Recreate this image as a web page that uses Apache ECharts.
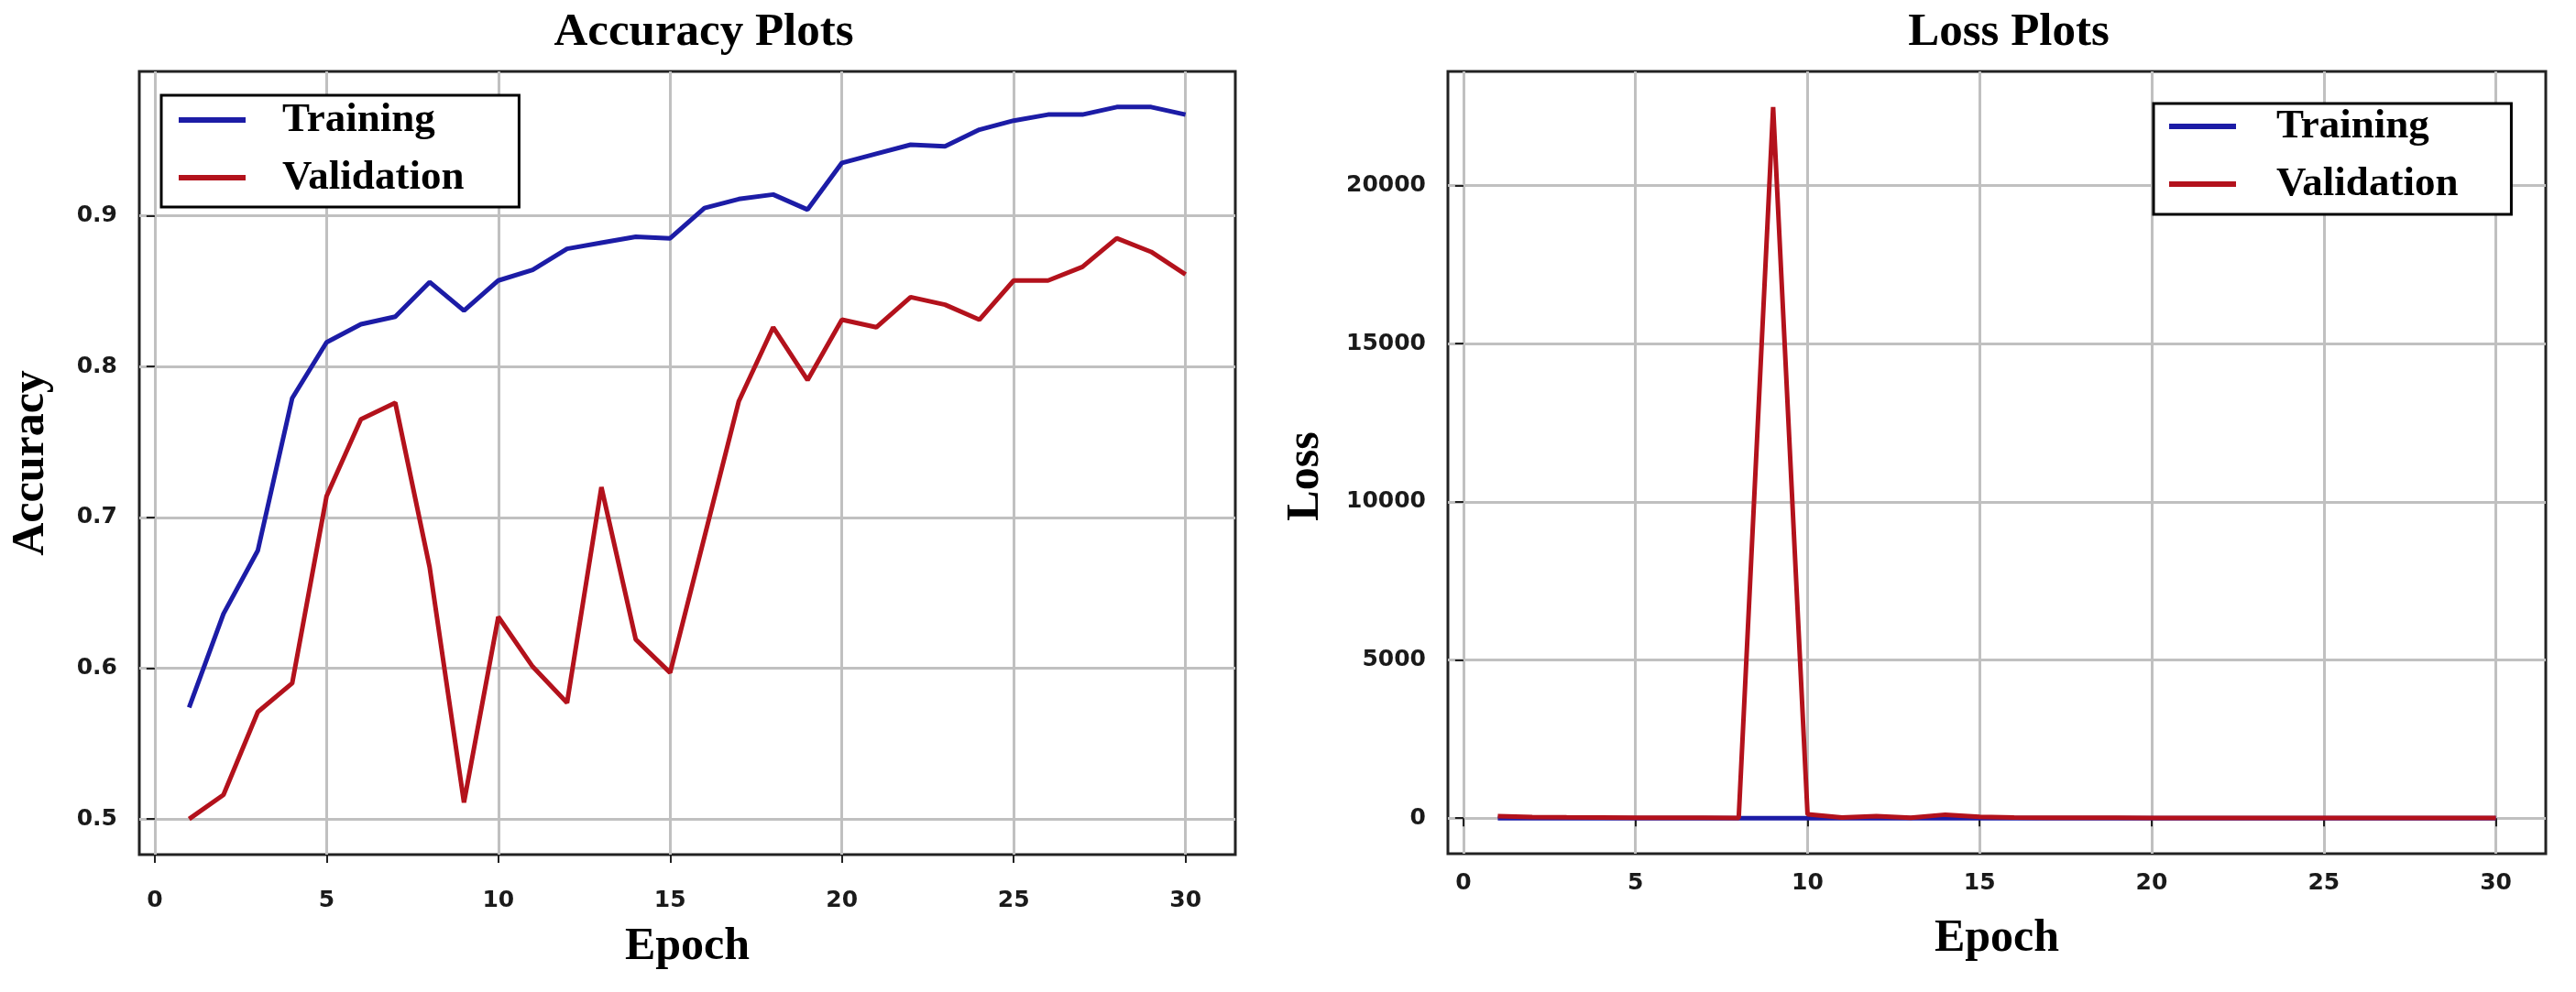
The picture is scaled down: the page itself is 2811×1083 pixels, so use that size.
<!DOCTYPE html>
<html>
<head>
<meta charset="utf-8">
<script src="https://cdn.jsdelivr.net/npm/echarts@6/dist/echarts.min.js"></script>
<style>
html,body{margin:0;padding:0;background:#fff;}
#chart{width:2811px;height:1083px;}
</style>
</head>
<body>
<div id="chart"></div>
<script>
const epochs = [1,2,3,4,5,6,7,8,9,10,11,12,13,14,15,16,17,18,19,20,21,22,23,24,25,26,27,28,29,30];
const accTrain = [0.574,0.636,0.678,0.779,0.816,0.828,0.833,0.856,0.837,0.857,0.864,0.878,0.882,0.886,0.885,0.905,0.911,0.914,0.904,0.935,0.941,0.947,0.946,0.957,0.963,0.967,0.967,0.972,0.972,0.967];
const accVal = [0.500,0.516,0.571,0.590,0.714,0.765,0.776,0.667,0.511,0.634,0.601,0.577,0.720,0.619,0.597,0.687,0.777,0.826,0.791,0.831,0.826,0.846,0.841,0.831,0.857,0.857,0.866,0.885,0.876,0.861];
const lossTrain = [1.05,0.92,0.85,0.62,0.51,0.47,0.45,0.40,0.44,0.39,0.37,0.34,0.33,0.32,0.32,0.28,0.26,0.25,0.27,0.20,0.18,0.17,0.17,0.15,0.13,0.12,0.12,0.11,0.11,0.12];
const lossVal = [60,35,25,20,15,12,10,8,22480,120,20,60,15,110,40,20,15,12,10,8,8,7,6,6,5,5,5,4,4,4];
const epochTicks = [0,5,10,15,20,25,30];
const accTicks = [0.5,0.6,0.7,0.8,0.9];
const lossTicks = [0,5000,10000,15000,20000];
const seriesNames = ['Training','Validation'];

const BLUE = '#1c1ca6';
const RED = '#b3121c';
const SERIF = "'Liberation Serif','Times New Roman',serif";
const SANS = "'DejaVu Sans',sans-serif";

function pairs(xs, ys){ return xs.map((x,i)=>[x, ys[i]]); }

function xAxisCfg(gi, margin, gap){
  return {
    type:'value', gridIndex:gi, min:-0.45, max:31.45,
    axisLine:{show:false},
    axisTick:{show:true, inside:false, length:9, customValues:epochTicks, lineStyle:{color:'#222', width:2}},
    axisLabel:{customValues:epochTicks, margin:margin, fontFamily:SANS, fontWeight:'bold', fontSize:25, color:'#1a1a1a',
      formatter:(v)=> epochTicks.indexOf(v) >= 0 ? String(v) : ''},
    splitLine:{show:true, lineStyle:{color:'#c0c0c0', width:3}},
    name:'Epoch', nameLocation:'middle', nameGap:gap,
    nameTextStyle:{fontFamily:SERIF, fontWeight:'bold', fontSize:50, color:'#000'}
  };
}

function yAxisCfg(gi, min, max, ticks, fmt, name, gap, pad){
  return {
    type:'value', gridIndex:gi, min:min, max:max,
    axisLine:{show:false},
    axisTick:{show:true, inside:false, length:9, customValues:ticks, lineStyle:{color:'#222', width:2}},
    axisLabel:{customValues:ticks, margin:24, fontFamily:SANS, fontWeight:'bold', fontSize:25, color:'#1a1a1a',
      formatter:(v)=> ticks.some(t=>Math.abs(t-v)<1e-9) ? fmt(v) : ''},
    splitLine:{show:true, lineStyle:{color:'#c0c0c0', width:3}},
    name:name, nameLocation:'middle', nameGap:gap,
    nameTextStyle:{fontFamily:SERIF, fontWeight:'bold', fontSize:50, color:'#000', padding:pad}
  };
}

function lineSeries(name, color, xi, yi, data, z){
  return {
    type:'line', name:name, xAxisIndex:xi, yAxisIndex:yi, data:data,
    showSymbol:false, symbol:'none', smooth:false, z:z,
    lineStyle:{color:color, width:5},
    itemStyle:{color:color},
    emphasis:{disabled:true}
  };
}

function legendCfg(left, top, padding, textPad){
  return {
    data:seriesNames, orient:'vertical', left:left, top:top,
    icon:'rect', itemWidth:73, itemHeight:6, itemGap:13,
    padding:padding, borderColor:'#000', borderWidth:3, borderRadius:0,
    backgroundColor:'#fff', selectedMode:false,
    textStyle:{fontFamily:SERIF, fontWeight:'bold', fontSize:45, color:'#000', lineHeight:50, padding:[0,0,0,textPad]}
  };
}

const chart = echarts.init(document.getElementById('chart'), null, {renderer:'canvas'});
chart.setOption({
  backgroundColor:'#fff',
  animation:false,
  graphic:[
    {type:'text', x:768, y:36, style:{text:'Accuracy Plots', font:"bold 51px 'Liberation Serif'", fill:'#000', align:'center', verticalAlign:'middle'}},
    {type:'text', x:2192, y:36, style:{text:'Loss Plots', font:"bold 51px 'Liberation Serif'", fill:'#000', align:'center', verticalAlign:'middle'}}
  ],
  grid:[
    {left:152, top:78, width:1196, height:855, show:true, borderColor:'#222', borderWidth:3, backgroundColor:'transparent', containLabel:false},
    {left:1580, top:78, width:1198, height:854, show:true, borderColor:'#222', borderWidth:3, backgroundColor:'transparent', containLabel:false}
  ],
  xAxis:[ xAxisCfg(0, 38, 76), xAxisCfg(1, 20, 68) ],
  yAxis:[
    yAxisCfg(0, 0.4764, 0.9956, accTicks, v=>v.toFixed(1), 'Accuracy', 93, [0,0,0,0]),
    yAxisCfg(1, -1124, 23604, lossTicks, v=>String(Math.round(v)), 'Loss', 130, [0,30,0,0])
  ],
  legend:[
    legendCfg(176, 104, [2,60,7,19], 35),
    legendCfg(2350, 113, [0,58,8,17], 39)
  ],
  series:[
    lineSeries('Training', BLUE, 0, 0, pairs(epochs, accTrain), 3),
    lineSeries('Validation', RED, 0, 0, pairs(epochs, accVal), 4),
    lineSeries('Training', BLUE, 1, 1, pairs(epochs, lossTrain), 3),
    lineSeries('Validation', RED, 1, 1, pairs(epochs, lossVal), 4)
  ]
});
</script>
</body>
</html>
